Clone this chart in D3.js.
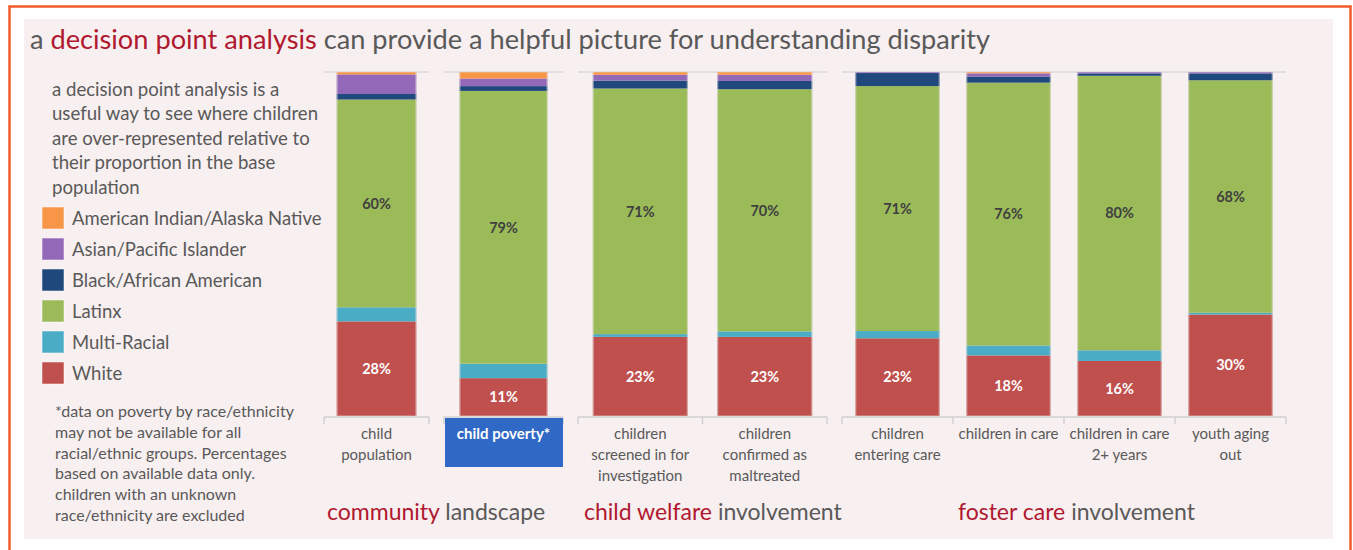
<!DOCTYPE html>
<html><head><meta charset="utf-8">
<script src="https://cdn.jsdelivr.net/npm/d3@7"></script>
<style>
html,body{margin:0;padding:0;background:#fff;}
svg{display:block;}
text{font-family:Lato,"Open Sans",sans-serif;}
</style></head>
<body>
<svg id="chart" width="1353" height="550"></svg>
<script>
// ---------- data ----------
const categories = ["child population","child poverty*","children screened in for investigation","children confirmed as maltreated","children entering care","children in care","children in care 2+ years","youth aging out"];
const categoryLines = [["child","population"],["child poverty*"],["children","screened in for","investigation"],["children","confirmed as","maltreated"],["children","entering care"],["children in care"],["children in care","2+ years"],["youth aging","out"]];
const seriesNames = ["American Indian/Alaska Native","Asian/Pacific Islander","Black/African American","Latinx","Multi-Racial","White"];
const seriesColors = ["#f79646","#9468b9","#1f497d","#9bbb59","#4bacc6","#c0504d"];
const white       = [27.5, 11.0, 23.0, 23.0, 22.6, 17.6, 16.0, 29.5];
const multiRacial = [ 4.1,  4.2,  0.8,  1.6,  2.1,  2.9,  3.1,  0.5];
const latinx      = [60.4, 79.3, 71.4, 70.4, 71.2, 76.4, 79.8, 67.6];
const black       = [ 1.6,  1.4,  2.3,  2.4,  3.8,  1.8,  0.7,  2.0];
const asianPI     = [ 5.7,  2.2,  1.7,  1.8,  0.3,  0.9,  0.4,  0.4];
const aian        = [ 0.7,  1.9,  0.8,  0.8,  0.0,  0.4,  0.0,  0.0];
const groups = [
  {cats:[0], title:["community"," landscape"]},
  {cats:[1], title:null},
  {cats:[2,3], title:["child welfare"," involvement"]},
  {cats:[4,5,6,7], title:["foster care"," involvement"]}
];
const introLines = ["a decision point analysis is a","useful way to see where children","are over-represented relative to","their proportion in the base","population"];
const noteLines = ["*data on poverty by race/ethnicity","may not be available for all","racial/ethnic groups. Percentages","based on available data only.","children with an unknown","race/ethnicity are excluded"];

// ---------- layout ----------
const svg = d3.select("#chart");
const GRAY = "#595959", RED = "#b0182f";
svg.append("rect").attr("x",0).attr("y",0).attr("width",1353).attr("height",550).attr("fill","#fff");
svg.append("rect").attr("x",24).attr("y",19).attr("width",1309).attr("height",520).attr("fill","#f8eff0");
svg.append("path").attr("d","M9.5,550 V6.5 H1350.5 V550").attr("fill","none").attr("stroke","#f15a29").attr("stroke-width",2.5);

// title
const t = svg.append("text").attr("x",30).attr("y",49).attr("font-size",27.2).attr("fill",GRAY);
t.append("tspan").text("a ");
t.append("tspan").attr("fill",RED).text("decision point analysis");
t.append("tspan").text(" can provide a helpful picture for understanding disparity");

// intro text
svg.append("g").selectAll("text").data(introLines).join("text")
  .attr("x",52).attr("y",(d,i)=>96+i*24.4).attr("font-size",18.6).attr("fill",GRAY).text(d=>d);

// legend
const leg = svg.append("g").selectAll("g").data(seriesNames).join("g")
  .attr("transform",(d,i)=>`translate(42,${207+i*31})`);
leg.append("rect").attr("width",22).attr("height",22).attr("fill",(d,i)=>seriesColors[i])
  .attr("stroke","#fff").attr("stroke-opacity",0.5).attr("stroke-width",1);
leg.append("text").attr("x",30).attr("y",11).attr("dy","0.36em").attr("font-size",18.5).attr("fill",GRAY).text(d=>d);

// footnote
svg.append("g").selectAll("text").data(noteLines).join("text")
  .attr("x",55).attr("y",(d,i)=>417+i*20.8).attr("font-size",16).attr("fill",GRAY).text(d=>d);

// stacked data
const keys = ["White","Multi-Racial","Latinx","Black/African American","Asian/Pacific Islander","American Indian/Alaska Native"];
const rows = categories.map((c,i)=>({cat:c, idx:i,
  "White":white[i], "Multi-Racial":multiRacial[i], "Latinx":latinx[i],
  "Black/African American":black[i], "Asian/Pacific Islander":asianPI[i],
  "American Indian/Alaska Native":aian[i]}));
const stacked = d3.stack().keys(keys)(rows);
const color = d3.scaleOrdinal().domain(seriesNames).range(seriesColors);

const y = d3.scaleLinear().domain([0,100]).range([416,72]);
const panelRanges = [[324,429],[444,563],[578,827],[842,1286]];
const pads = [[0.24,0.12],[0.26,0.13],[0.237,0.1185],[0.24,0.12]];

groups.forEach((g,gi)=>{
  const x = d3.scaleBand().domain(g.cats.map(i=>categories[i])).range(panelRanges[gi])
    .paddingInner(pads[gi][0]).paddingOuter(pads[gi][1]);
  const G = svg.append("g");
  // top gridline (100%)
  G.append("line").attr("x1",panelRanges[gi][0]).attr("x2",panelRanges[gi][1])
    .attr("y1",y(100)).attr("y2",y(100)).attr("stroke","#d9d9d9").attr("stroke-width",1.5);
  // bars
  stacked.forEach(s=>{
    G.selectAll(null).data(s.filter(d=>g.cats.includes(d.data.idx))).join("rect")
      .attr("x",d=>x(d.data.cat)).attr("width",x.bandwidth())
      .attr("y",d=>y(d[1])).attr("height",d=>Math.max(0,y(d[0])-y(d[1])))
      .attr("fill",color(s.key));
  });
  // bar outlines
  G.selectAll(null).data(g.cats).join("rect")
    .attr("x",i=>x(categories[i])+0.5).attr("width",x.bandwidth()-1)
    .attr("y",y(100)).attr("height",y(0)-y(100))
    .attr("fill","none").attr("stroke","#e6e0e0").attr("stroke-opacity",0.6).attr("stroke-width",1);
  // value labels
  const lat = stacked.find(s=>s.key==="Latinx");
  const wh = stacked.find(s=>s.key==="White");
  G.selectAll(null).data(lat.filter(d=>g.cats.includes(d.data.idx))).join("text")
    .attr("x",d=>x(d.data.cat)+x.bandwidth()/2).attr("y",d=>y((d[0]+d[1])/2))
    .attr("dy","0.36em").attr("text-anchor","middle").attr("font-size",14.5).attr("font-weight","bold")
    .attr("fill","#404040").text(d=>d3.format(".0f")(d[1]-d[0])+"%");
  G.selectAll(null).data(wh.filter(d=>g.cats.includes(d.data.idx))).join("text")
    .attr("x",d=>x(d.data.cat)+x.bandwidth()/2).attr("y",d=>y((d[0]+d[1])/2))
    .attr("dy","0.36em").attr("text-anchor","middle").attr("font-size",14.5).attr("font-weight","bold")
    .attr("fill","#fff").text(d=>d3.format(".0f")(d[1]-d[0])+"%");
  // category axis (bracket with ticks between categories)
  const y0 = y(0)+1;
  const r0 = panelRanges[gi][0];
  const bounds = d3.range(g.cats.length+1).map(k=>r0 + k*(panelRanges[gi][1]-r0)/g.cats.length);
  G.append("line").attr("x1",r0).attr("x2",panelRanges[gi][1]).attr("y1",y0).attr("y2",y0)
    .attr("stroke","#d0d0d0").attr("stroke-width",1.5);
  G.selectAll(null).data(bounds).join("line").attr("x1",d=>d).attr("x2",d=>d)
    .attr("y1",y0).attr("y2",y0+7).attr("stroke","#d0d0d0").attr("stroke-width",1.5);
  // highlighted category (child poverty)
  const highlight = g.cats.includes(1);
  if (highlight) {
    G.append("rect").attr("x",r0+1).attr("y",418).attr("width",panelRanges[gi][1]-r0-1).attr("height",49)
      .attr("fill","#3068c6");
  }
  g.cats.forEach(ci=>{
    const cx = x(categories[ci]) + x.bandwidth()/2;
    G.append("g").selectAll("text").data(categoryLines[ci]).join("text")
      .attr("x",cx).attr("y",(d,k)=>439+k*21).attr("text-anchor","middle")
      .attr("font-size",15).attr("fill",highlight?"#fff":GRAY)
      .attr("font-weight",highlight?"bold":"normal").text(d=>d);
  });
});

// group titles
const titlePos = [[327,520],[584,520],[958,520]];
groups.filter(g=>g.title).forEach((g,k)=>{
  const tt = svg.append("text").attr("x",titlePos[k][0]).attr("y",titlePos[k][1]).attr("font-size",23).attr("fill",GRAY);
  tt.append("tspan").attr("fill",RED).text(g.title[0]);
  tt.append("tspan").text(g.title[1]);
});
</script>
</body></html>
